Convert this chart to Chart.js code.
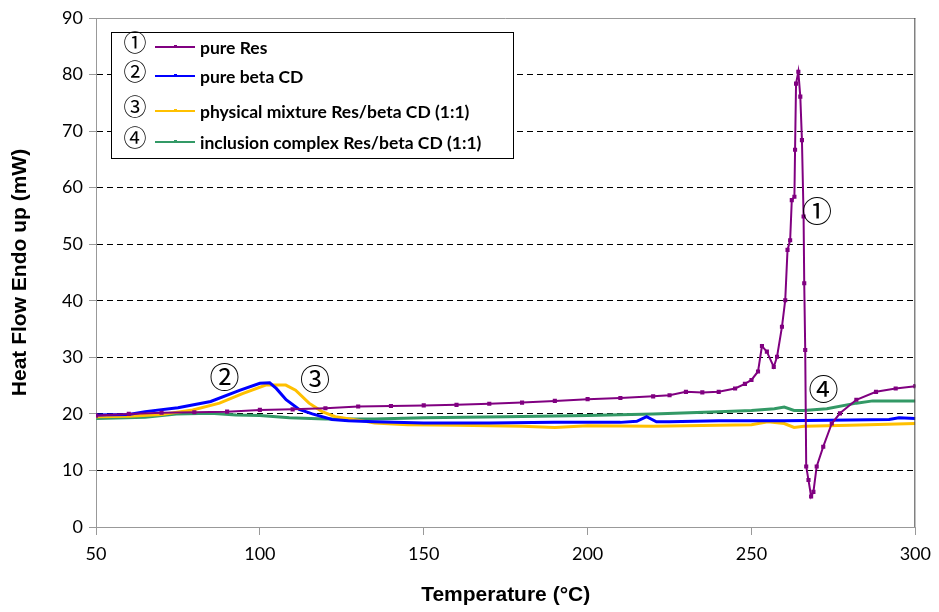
<!DOCTYPE html>
<html>
<head>
<meta charset="utf-8">
<script src="https://cdn.jsdelivr.net/npm/chart.js@4"></script>
<style>
  html, body { margin: 0; padding: 0; background: #fff; }
  #wrap { width: 939px; height: 612px; }
</style>
</head>
<body>
<div id="wrap"><canvas id="dsc" width="939" height="612"></canvas></div>
<script>
// series names and markers
const seriesNames = ["pure Res", "pure beta CD", "physical mixture Res/beta CD (1:1)", "inclusion complex Res/beta CD (1:1)"];
const seriesMarks = ["\u2460", "\u2461", "\u2462", "\u2463"];
const seriesColors = ["#800080", "#0000ff", "#ffc000", "#339966"];

// pure Res
const resT = [50, 60, 70, 80, 90, 100, 110, 120, 130, 140, 150, 160, 170, 180, 190, 200, 210, 220, 225, 230, 235, 240, 245, 248, 250, 252, 253.2, 254.7, 256.8, 257.8, 259.3, 260.3, 261, 261.8, 262.3, 263.1, 263.3, 263.6, 264.3, 264.9, 265.4, 265.9, 266.1, 266.4, 266.7, 267.4, 268.2, 268.9, 269.9, 271.9, 274.5, 277, 282, 288, 294, 300];
const resV = [19.7, 20.0, 20.2, 20.3, 20.4, 20.7, 20.8, 21.0, 21.3, 21.4, 21.5, 21.6, 21.8, 22.0, 22.3, 22.6, 22.8, 23.1, 23.3, 23.9, 23.8, 23.9, 24.5, 25.3, 26.0, 27.5, 32.0, 31.0, 28.3, 30.1, 35.4, 40.1, 49.0, 50.7, 57.8, 58.4, 66.7, 78.4, 80.5, 76.1, 68.4, 54.9, 43.1, 31.3, 10.7, 8.3, 5.4, 6.2, 10.7, 14.2, 18.3, 20.1, 22.5, 23.9, 24.5, 24.9];

// pure beta CD
const cdT = [50, 60, 65, 75, 85, 94, 100, 103, 105, 108, 112, 116, 122, 127, 135, 150, 170, 190, 210, 215, 218, 221, 225, 240, 260, 280, 292, 295, 300];
const cdV = [19.8, 19.9, 20.4, 21.1, 22.2, 24.2, 25.4, 25.5, 24.5, 22.5, 20.8, 20.0, 19.0, 18.8, 18.6, 18.4, 18.4, 18.5, 18.5, 18.7, 19.5, 18.6, 18.6, 18.8, 18.8, 18.9, 19.0, 19.3, 19.2];

// physical mixture
const mixT = [50, 60, 70, 79.5, 87.7, 94.7, 101.8, 107.9, 110.9, 115, 119, 123, 130, 135, 145, 160, 180, 190, 200, 220, 240, 250, 255, 260, 263, 266, 280, 300];
const mixV = [19.5, 19.6, 19.9, 20.7, 21.9, 23.6, 25.1, 25.1, 24.2, 21.9, 20.4, 19.5, 18.9, 18.4, 18.1, 18.0, 17.8, 17.6, 17.9, 17.8, 18.0, 18.1, 18.6, 18.3, 17.6, 17.8, 18.0, 18.3];

// inclusion complex
const incT = [50, 65, 74.5, 85, 92.7, 100, 109, 120, 135, 150, 175, 200, 220, 240, 250, 257, 260, 263, 266, 273, 282, 287, 300];
const incV = [19.2, 19.4, 20.0, 20.1, 19.8, 19.7, 19.3, 19.1, 19.1, 19.3, 19.5, 19.7, 20.0, 20.4, 20.6, 20.9, 21.2, 20.6, 20.6, 20.9, 21.9, 22.3, 22.3];

// where the circled labels sit, in data units
const markT = [270, 89.2, 116.8, 272];
const markV = [55.3, 26.0, 25.6, 23.9];

const xTicks = [50, 100, 150, 200, 250, 300];
const yTicks = [0, 10, 20, 30, 40, 50, 60, 70, 80, 90];

function pts(t, v) {
  return t.map((x, i) => ({ x: x, y: v[i] }));
}

const allT = [resT, cdT, mixT, incT];
const allV = [resV, cdV, mixV, incV];

const tickFont = { family: "Lato, 'Open Sans', sans-serif", size: 18 };
const titleFont = { family: "'Liberation Sans', Arial, sans-serif", size: 21, weight: "bold" };
const circleFont = "30px 'DejaVu Serif', 'Noto Sans CJK JP', serif";

// frame, circled labels and the legend box
const extras = {
  id: "extras",
  afterDatasetsDraw(chart) {
    const ctx = chart.ctx;
    const a = chart.chartArea;
    const xs = chart.scales.x, ys = chart.scales.y;
    ctx.save();
    // plot frame
    ctx.lineWidth = 1;
    ctx.strokeStyle = "#999";
    ctx.beginPath();
    ctx.moveTo(a.left, a.top + 0.5);
    ctx.lineTo(a.right, a.top + 0.5);
    ctx.stroke();
    ctx.strokeStyle = "#444";
    ctx.beginPath();
    ctx.moveTo(a.right - 0.5, a.top);
    ctx.lineTo(a.right - 0.5, a.bottom);
    ctx.stroke();

    // circled numbers beside the curves
    ctx.fillStyle = "#000";
    ctx.font = circleFont;
    ctx.textAlign = "center";
    ctx.textBaseline = "middle";
    seriesMarks.forEach((m, i) => {
      ctx.fillText(m, xs.getPixelForValue(markT[i]), ys.getPixelForValue(markV[i]));
    });

    // legend
    const bx = 111, by = 32, bw = 402, bh = 126;
    ctx.fillStyle = "#fff";
    ctx.fillRect(bx, by, bw, bh);
    ctx.strokeStyle = "#000";
    ctx.lineWidth = 1;
    ctx.strokeRect(bx + 0.5, by + 0.5, bw, bh);
    const rows = [47, 76, 111, 142];
    seriesNames.forEach((name, i) => {
      const y = rows[i];
      ctx.fillStyle = "#000";
      ctx.font = "23px 'DejaVu Serif', 'Noto Sans CJK JP', serif";
      ctx.textAlign = "center";
      ctx.fillText(seriesMarks[i], 135, y - 2);
      ctx.strokeStyle = seriesColors[i];
      ctx.lineWidth = 2;
      ctx.beginPath();
      ctx.moveTo(155, y);
      ctx.lineTo(195, y);
      ctx.stroke();
      ctx.fillStyle = seriesColors[i];
      ctx.fillRect(174, y - 2, 3, 3);
      ctx.fillStyle = "#000";
      ctx.font = "bold 17.5px Lato, 'Open Sans', sans-serif";
      ctx.textAlign = "left";
      ctx.fillText(name, 200, y + 1);
    });
    ctx.restore();
  }
};

const datasets = seriesNames.map((name, i) => ({
  label: name,
  data: pts(allT[i], allV[i]),
  borderColor: seriesColors[i],
  backgroundColor: seriesColors[i],
  borderWidth: i === 0 ? 2 : 3,
  pointRadius: i === 0 ? 1.5 : 0,
  pointStyle: "rect",
  tension: 0,
  fill: false
}));

new Chart(document.getElementById("dsc"), {
  type: "line",
  data: { datasets: datasets },
  options: {
    responsive: false,
    animation: false,
    layout: { padding: { top: 18, right: 20, left: 8, bottom: 4 } },
    plugins: { legend: { display: false }, tooltip: { enabled: false } },
    scales: {
      x: {
        type: "linear",
        min: 50,
        max: 300,
        afterBuildTicks: s => { s.ticks = xTicks.map(v => ({ value: v })); },
        grid: { drawOnChartArea: false, color: "#999", tickLength: 8 },
        border: { color: "#999" },
        ticks: { color: "#000", font: tickFont, padding: 8 },
        title: { display: true, text: "Temperature (\u00b0C)", color: "#000", font: titleFont, padding: { top: 14, bottom: 0 } },
        afterFit: s => { s.height = 81; }
      },
      y: {
        min: 0,
        max: 90,
        afterBuildTicks: s => { s.ticks = yTicks.map(v => ({ value: v })); },
        grid: {
          color: c => (c.tick && (c.tick.value === 0 || c.tick.value === 90)) ? "rgba(0,0,0,0)" : "#000",
          tickColor: "#999",
          tickLength: 7,
          tickBorderDash: [0, 0]
        },
        border: { color: "#999", dash: [6, 4] },
        ticks: { color: "#000", font: tickFont, padding: 6 },
        title: { display: true, text: "Heat Flow Endo up (mW)", color: "#000", font: titleFont, padding: { top: 0, bottom: 8 } },
        afterFit: s => { s.width = 88; }
      }
    }
  },
  plugins: [extras]
});
</script>
</body>
</html>
